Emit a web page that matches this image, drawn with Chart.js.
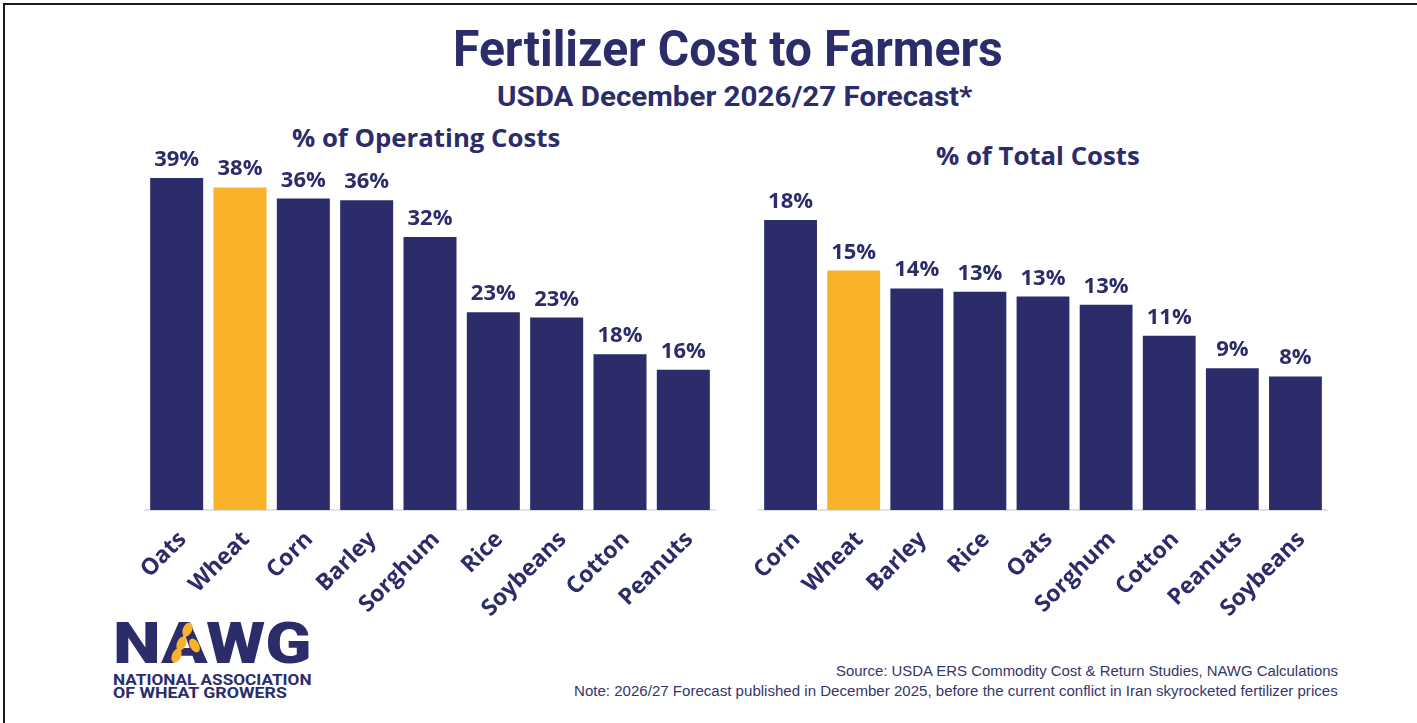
<!DOCTYPE html>
<html><head><meta charset="utf-8">
<script src="https://cdn.jsdelivr.net/npm/chart.js@4.4.1/dist/chart.umd.min.js"></script>
<style>
html,body{margin:0;padding:0;background:#fff;width:1417px;height:723px;overflow:hidden;color:#2b2c69}
.frame{position:absolute;left:3px;top:3px;width:1430px;height:740px;border-top:2px solid #1c1c1c;border-left:2px solid #1c1c1c;box-sizing:border-box}
.fit{position:absolute;white-space:nowrap;transform-origin:0 0;line-height:1}
canvas{position:absolute}
.grain{position:absolute;width:9px;height:15px;background:#fbb22b;border-radius:50%;}
</style></head><body>
<div class="frame"></div>
<div class="fit" data-w="550" style="left:453px;top:20px;font:700 50px Roboto">Fertilizer Cost to Farmers</div>
<div class="fit" data-w="476" style="left:497px;top:81px;font:700 27px Roboto">USDA December 2026/27 Forecast*</div>
<div class="fit" data-w="268" style="left:292px;top:120px;font:700 25px 'Open Sans'">% of Operating Costs</div>
<div class="fit" data-w="204" style="left:936px;top:138px;font:700 25px 'Open Sans'">% of Total Costs</div>
<div class="fit" data-w="502" style="left:836px;top:663px;font:400 14px 'Liberation Sans';color:#35366b">Source: USDA ERS Commodity Cost &amp; Return Studies, NAWG Calculations</div>
<div class="fit" data-w="764" style="left:574px;top:683px;font:400 14px 'Liberation Sans';color:#35366b">Note: 2026/27 Forecast published in December 2025, before the current conflict in Iran skyrocketed fertilizer prices</div>
<div class="fit" data-w="199" style="left:113px;top:609px;font:900 58px Roboto">NAWG</div>
<div class="grain" style="left:183px;top:622px;transform:rotate(25deg)"></div>
<div class="grain" style="left:177px;top:636px;transform:rotate(25deg)"></div>
<div class="grain" style="left:190px;top:638px;transform:rotate(-30deg)"></div>
<div class="grain" style="left:172px;top:648px;transform:rotate(25deg)"></div>
<div class="fit" data-w="199" style="left:113px;top:671px;font:700 15px Roboto">NATIONAL ASSOCIATION</div>
<div class="fit" data-w="174" style="left:113px;top:684px;font:700 15px Roboto">OF WHEAT GROWERS</div>
<canvas id="left" width="637" height="530" style="left:100px;top:100px"></canvas>
<canvas id="right" width="643" height="530" style="left:737px;top:100px"></canvas>
<script>
const leftCategories = ['Oats','Wheat','Corn','Barley','Sorghum','Rice','Soybeans','Cotton','Peanuts'];
const leftValues = [38.8,37.7,36.4,36.2,31.9,23.1,22.5,18.2,16.4];
const leftLabels = ['39%','38%','36%','36%','32%','23%','23%','18%','16%'];
const rightCategories = ['Corn','Wheat','Barley','Rice','Oats','Sorghum','Cotton','Peanuts','Soybeans'];
const rightValues = [17.8,14.7,13.6,13.4,13.1,12.6,10.7,8.7,8.2];
const rightLabels = ['18%','15%','14%','13%','13%','13%','11%','9%','8%'];

const NAVY = '#2b2c69', GOLD = '#fbb22b';

document.querySelectorAll('.fit').forEach(el => {
  const w = +el.dataset.w; const s = w / el.offsetWidth;
  el.style.transform = 'scaleX(' + s + ')';
});

const valueLabels = {
  id: 'valueLabels',
  afterDatasetsDraw(chart, args, opts) {
    const ctx = chart.ctx; const meta = chart.getDatasetMeta(0);
    ctx.save();
    ctx.font = '700 22px "Open Sans"'; ctx.fillStyle = NAVY;
    ctx.textAlign = 'center'; ctx.textBaseline = 'alphabetic';
    meta.data.forEach((bar, i) => ctx.fillText(opts.labels[i], bar.x, bar.y - 12));
    ctx.restore();
  }
};

function makeChart(id, cats, vals, labels, yMax, pad) {
  new Chart(document.getElementById(id), {
    type: 'bar',
    data: { labels: cats, datasets: [{ data: vals,
      backgroundColor: cats.map(c => c === 'Wheat' ? GOLD : NAVY),
      categoryPercentage: 1, barPercentage: 0.837, borderWidth: 0 }] },
    plugins: [valueLabels],
    options: {
      responsive: false, animation: false, devicePixelRatio: 1,
      layout: { padding: pad },
      plugins: { legend: { display: false }, tooltip: { enabled: false }, valueLabels: { labels } },
      scales: {
        x: { grid: { display: false }, border: { display: true, color: '#e2e2e2', width: 2 },
             ticks: { color: NAVY, font: { family: 'Open Sans', weight: '700', size: 23 },
                      minRotation: 45, maxRotation: 45, autoSkip: false, padding: 8, labelOffset: 6 },
             afterFit(s) { s.height = 120; s.paddingLeft = 0; s.paddingRight = 0; } },
        y: { display: false, min: 0, max: yMax }
      }
    }
  });
}
makeChart('left', leftCategories, leftValues, leftLabels, 45, { left: 45, right: 22, top: 25, bottom: 0 });
makeChart('right', rightCategories, rightValues, rightLabels, 24, { left: 22, right: 53, top: 19, bottom: 0 });
</script>
</body></html>
